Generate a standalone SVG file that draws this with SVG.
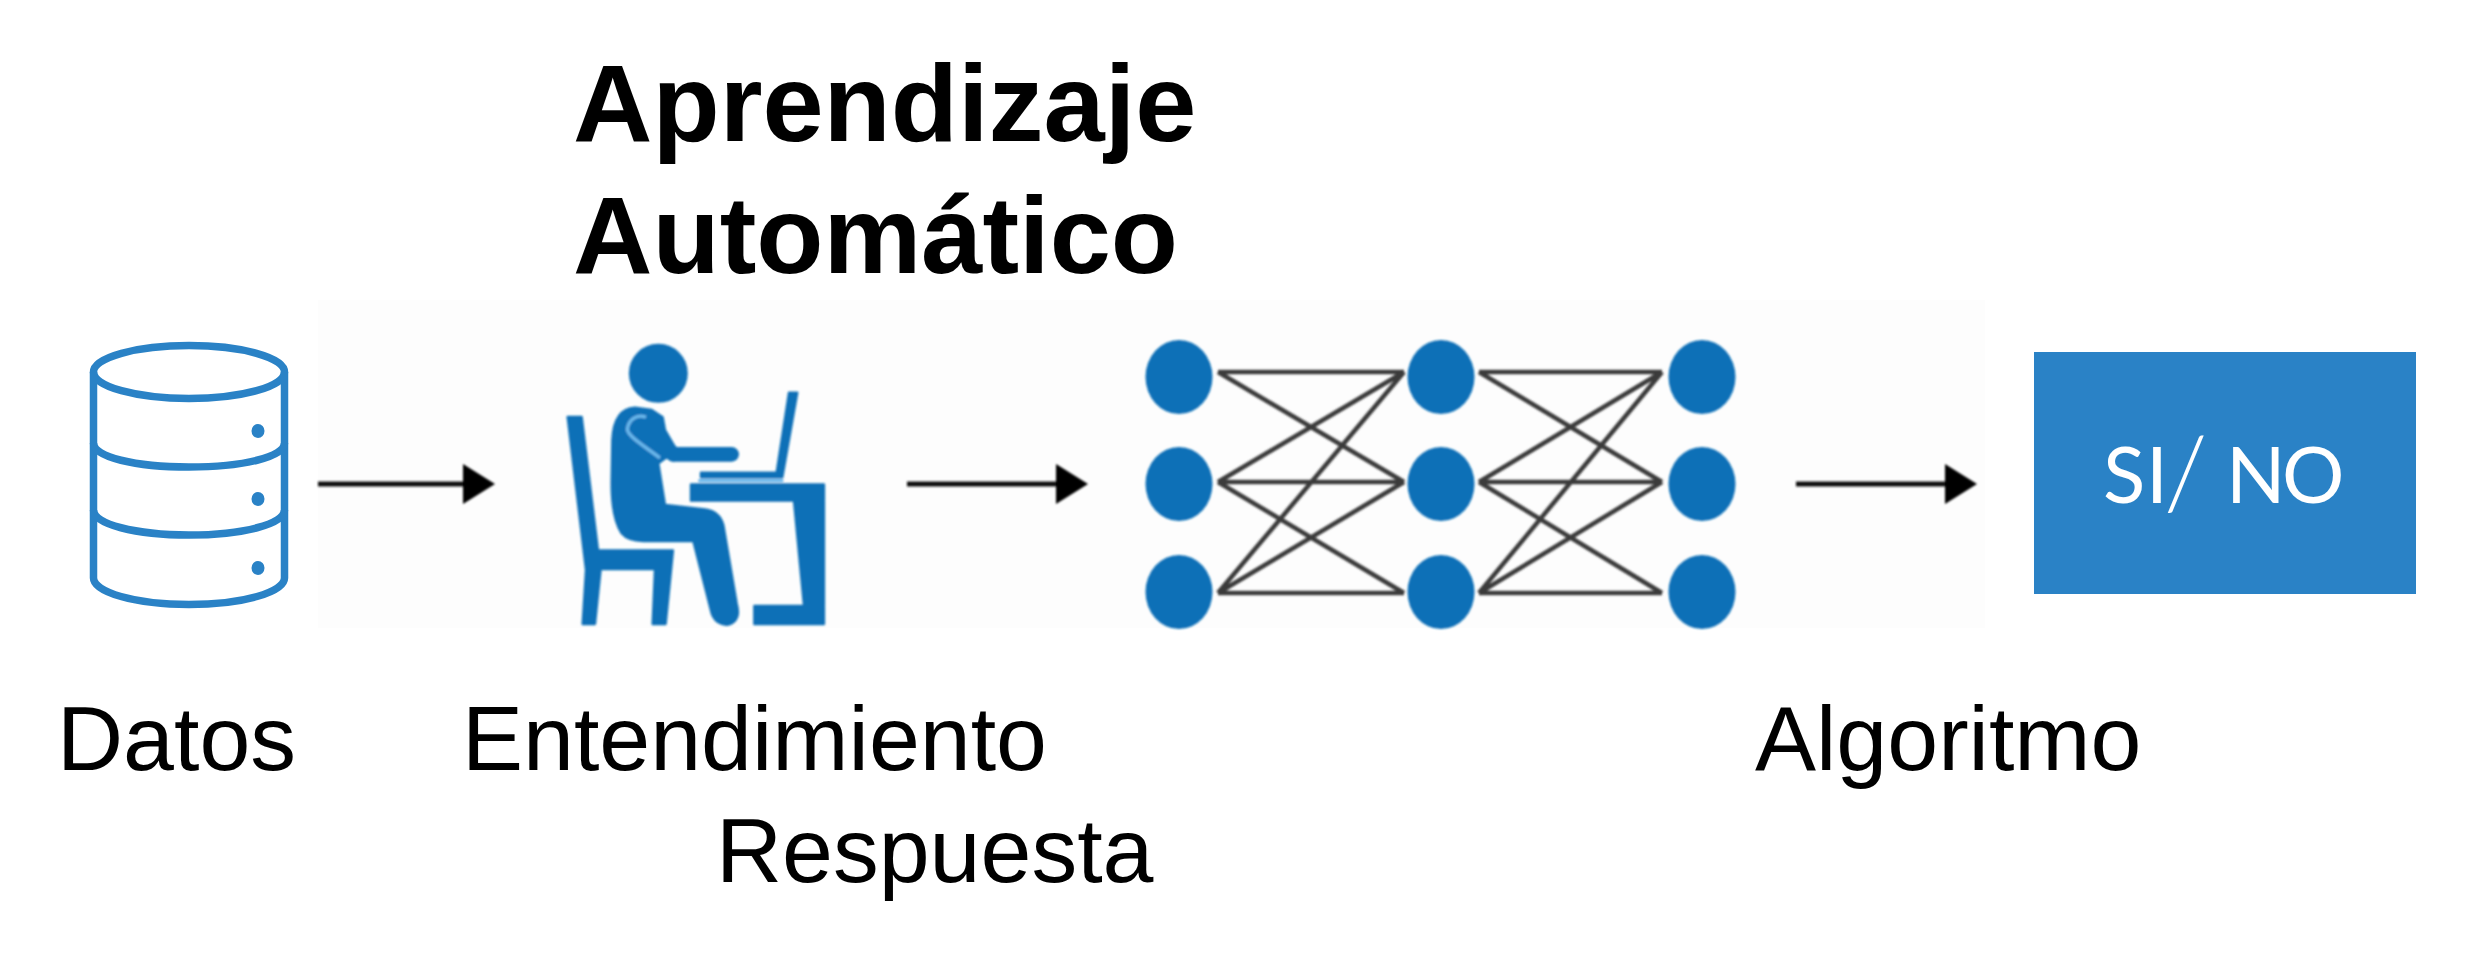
<svg xmlns="http://www.w3.org/2000/svg" width="2465" height="958" viewBox="0 0 2465 958">
<style>
.lbl{font-family:"Liberation Sans",Arial,sans-serif;font-size:91.5px;fill:#000}
.ttl{font-family:"Liberation Sans",Arial,sans-serif;font-size:110px;font-weight:700;fill:#000}
.db{fill:none;stroke:#2a82c6;stroke-width:7.5}
.dot{fill:#2a82c6}
.nn{fill:#0f70b7}
.edge{stroke:#3a3a3a;stroke-width:4.5;fill:none}
.arrow{stroke:#111;stroke-width:5;fill:none;marker-end:url(#head)}
.fig{fill:#0f70b7;stroke:#0f70b7;stroke-width:7;stroke-linejoin:round}
</style>
<defs>
<filter id="soft" filterUnits="userSpaceOnUse" x="0" y="0" width="2465" height="958"><feGaussianBlur stdDeviation="1.2"/></filter>
<marker id="head" markerUnits="userSpaceOnUse" markerWidth="34" markerHeight="44" refX="2" refY="22" orient="auto" overflow="visible"><path d="M0 2L32 22L0 42Z" fill="#000"/></marker>
</defs>
<rect width="2465" height="958" fill="#fff"/>
<rect x="318" y="300" width="1667" height="328" fill="#fdfdfd"/>

<g id="title">
<text class="ttl" x="573" y="141">Aprendizaje</text>
<text class="ttl" x="573" y="273">Automático</text>
</g>

<g id="datos">
<ellipse class="db" cx="189" cy="372" rx="95.5" ry="26.5"/>
<path class="db" d="M93.500 372V578C93.500 592 135 604.500 189 604.500C243 604.500 284.500 592 284.500 578V372"/>
<path class="db" d="M93.500 443C93.500 457 135 467 189 467C243 467 284.500 457 284.500 443"/>
<path class="db" d="M93.500 510C93.500 524 135 535 189 535C243 535 284.500 524 284.500 510"/>
<ellipse class="dot" cx="258" cy="431" rx="6.500" ry="7"/>
<ellipse class="dot" cx="258" cy="499" rx="6.500" ry="7"/>
<ellipse class="dot" cx="258" cy="568" rx="6.500" ry="7"/>
<text class="lbl" x="57" y="770">Datos</text>
</g>

<g id="entendimiento">
<g filter="url(#soft)">
<g transform="translate(530 340) scale(.3333)">
<circle class="fig" cx="385" cy="100" r="85"/>
<path class="fig" d="M113 231H155L204 631H429L407 852H368L375 687H212L195 852H158L168 690Z"/>
<path class="fig" d="M315 203L365 210L398 232L405 270L440 330L385 370L405 495L525 508C555 512 572 525 580 555L620 790C625 810 628 830 612 845C590 865 555 850 545 820L490 603H340C310 603 290 598 275 580C255 550 245 500 245 430L247 300C250 240 270 205 315 203Z"/>
<path d="M348 232C320 220 295 240 292 268C292 285 330 310 390 354" stroke="#6ab8ec" stroke-width="10" fill="none"/>
<path d="M330 262L430 342" stroke="#0f70b7" stroke-width="46" stroke-linecap="round" fill="none"/>
<path d="M430 343H605" stroke="#0f70b7" stroke-width="44" stroke-linecap="round" fill="none"/>
<path class="fig" d="M513 398H740L777 158H802L757 412H513Z"/>
<path d="M505 422H760" stroke="#6ab8ec" stroke-width="10" fill="none"/>
<path class="fig" d="M483 433H882V852H673V798H822L792 482H483Z"/>
</g>
</g>
<text class="lbl" x="462" y="770">Entendimiento</text>
</g>

<g id="connectors">
<g filter="url(#soft)">
<path class="arrow" d="M318 484H465"/>
<path class="arrow" d="M907 484H1058"/>
<path class="arrow" d="M1796 484H1947"/>
<path class="edge" d="M1218 372H1404M1218 372L1404 482M1218 482L1404 372M1218 482H1404M1218 482L1404 593M1218 593L1404 372M1218 593L1404 482M1218 593H1404"/>
<path class="edge" d="M1479 372H1662M1479 372L1662 482M1479 482L1662 372M1479 482H1662M1479 482L1662 593M1479 593L1662 372M1479 593L1662 482M1479 593H1662"/>
</g>
</g>

<g id="red" filter="url(#soft)">
<ellipse class="nn" cx="1179" cy="377" rx="33.500" ry="37"/>
<ellipse class="nn" cx="1179" cy="484" rx="33.500" ry="37"/>
<ellipse class="nn" cx="1179" cy="592" rx="33.500" ry="37"/>
<ellipse class="nn" cx="1441" cy="377" rx="33.500" ry="37"/>
<ellipse class="nn" cx="1441" cy="484" rx="33.500" ry="37"/>
<ellipse class="nn" cx="1441" cy="592" rx="33.500" ry="37"/>
<ellipse class="nn" cx="1702" cy="377" rx="33.500" ry="37"/>
<ellipse class="nn" cx="1702" cy="484" rx="33.500" ry="37"/>
<ellipse class="nn" cx="1702" cy="592" rx="33.500" ry="37"/>
</g>

<g id="algoritmo">
<text class="lbl" x="1755" y="770">Algoritmo</text>
</g>

<g id="respuesta-box">
<rect x="2034" y="352" width="382" height="242" fill="#2a82c6"/>
<text y="503" font-family="Lato,'Liberation Sans',sans-serif" font-size="78" fill="#fff"><tspan x="2103">S</tspan><tspan x="2146">I</tspan><tspan x="2164" y="509" font-size="100" font-weight="300">/</tspan><tspan x="2205" y="503"> </tspan><tspan x="2226">N</tspan><tspan x="2282">O</tspan></text>
</g>

<g id="respuesta">
<text class="lbl" x="716" y="882">Respuesta</text>
</g>
</svg>
